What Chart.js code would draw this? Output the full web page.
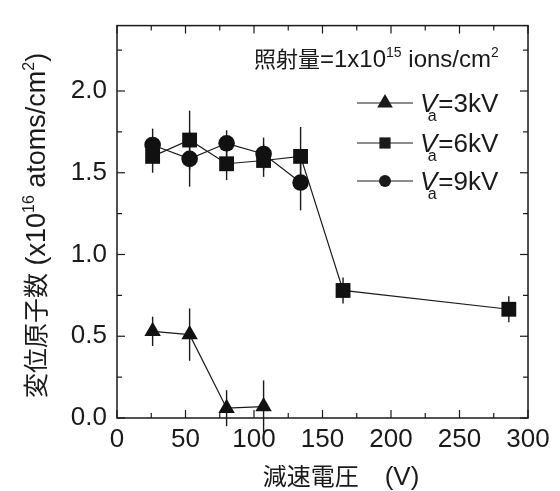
<!DOCTYPE html>
<html>
<head>
<meta charset="utf-8">
<script src="https://cdn.jsdelivr.net/npm/chart.js@4.4.1/dist/chart.umd.min.js"></script>
<style>
	body { margin: 0; background: #fff; }
	#wrap { width: 560px; height: 491px; }
</style>
</head>
<body>
<div id="wrap"><canvas id="canvas" width="560" height="491"></canvas></div>
<script>
	// axis ticks
	const xTicks = [0, 50, 100, 150, 200, 250, 300];
	const yTicks = [0.0, 0.5, 1.0, 1.5, 2.0];

	// Va = 3kV
	const x3kV = [26, 53, 80, 107];
	const y3kV = [0.53, 0.51, 0.06, 0.07];
	const err3kV = [0.09, 0.16, 0.11, 0.16];

	// Va = 6kV
	const x6kV = [26, 53, 80, 107, 134, 165, 286];
	const y6kV = [1.60, 1.70, 1.555, 1.575, 1.60, 0.78, 0.665];
	const err6kV = [0.10, 0.18, 0.10, 0.10, 0.18, 0.08, 0.08];

	// Va = 9kV
	const x9kV = [26, 53, 80, 107, 134];
	const y9kV = [1.67, 1.585, 1.68, 1.615, 1.44];
	const err9kV = [0.10, 0.17, 0.08, 0.10, 0.17];

	const legendLabels = ['=3kV', '=6kV', '=9kV'];

	const FONT = '"Liberation Sans", Arial, "Noto Sans CJK JP", sans-serif';
	const INK = '#1a1a1a';

	function toPoints(xs, ys) {
		return xs.map((x, i) => ({ x: x, y: ys[i] }));
	}

	function drawRuns(ctx, runs, x, y) {
		// runs: [text, size, dy]
		let cx = x;
		runs.forEach(r => {
			ctx.font = r[1] + 'px ' + FONT;
			ctx.fillText(r[0], cx, y + r[2]);
			cx += ctx.measureText(r[0]).width;
		});
		return cx - x;
	}
	function runsWidth(ctx, runs) {
		let w = 0;
		runs.forEach(r => {
			ctx.font = r[1] + 'px ' + FONT;
			w += ctx.measureText(r[0]).width;
		});
		return w;
	}

	function marker(ctx, style, x, y, r) {
		ctx.beginPath();
		if (style === 'triangle') {
			ctx.moveTo(x, y - r);
			ctx.lineTo(x + r * 0.866, y + r / 2);
			ctx.lineTo(x - r * 0.866, y + r / 2);
			ctx.closePath();
		} else if (style === 'rect') {
			ctx.rect(x - r, y - r, 2 * r, 2 * r);
		} else {
			ctx.arc(x, y, r, 0, Math.PI * 2);
		}
		ctx.fill();
	}

	const decorPlugin = {
		id: 'decor',
		beforeDatasetsDraw(chart) {
			const ctx = chart.ctx;
			const ys = chart.scales.y;
			ctx.save();
			ctx.strokeStyle = INK;
			ctx.lineWidth = 1.4;
			chart.data.datasets.forEach((ds, i) => {
				const meta = chart.getDatasetMeta(i);
				meta.data.forEach((pt, j) => {
					const v = ds.data[j].y, e = ds.errors[j];
					ctx.beginPath();
					ctx.moveTo(pt.x, ys.getPixelForValue(v + e));
					ctx.lineTo(pt.x, ys.getPixelForValue(v - e));
					ctx.stroke();
				});
			});
			ctx.restore();
		},
		afterDraw(chart) {
			const ctx = chart.ctx;
			const a = chart.chartArea;
			const xs = chart.scales.x, ys = chart.scales.y;
			ctx.save();
			ctx.strokeStyle = INK;
			ctx.fillStyle = INK;

			// frame
			ctx.lineWidth = 1.5;
			ctx.strokeRect(a.left, a.top, a.right - a.left, a.bottom - a.top);

			// inward ticks on all four sides
			ctx.lineWidth = 1.2;
			const tick = (x1, y1, x2, y2) => {
				ctx.beginPath(); ctx.moveTo(x1, y1); ctx.lineTo(x2, y2); ctx.stroke();
			};
			xTicks.forEach((t, i) => {
				const px = xs.getPixelForValue(t);
				tick(px, a.bottom, px, a.bottom - 8);
				tick(px, a.top, px, a.top + 8);
				if (i < xTicks.length - 1) {
					const m = xs.getPixelForValue((t + xTicks[i + 1]) / 2);
					tick(m, a.bottom, m, a.bottom - 5);
					tick(m, a.top, m, a.top + 5);
				}
			});
			yTicks.forEach((t, i) => {
				const py = ys.getPixelForValue(t);
				tick(a.left, py, a.left + 8, py);
				tick(a.right, py, a.right - 8, py);
				const next = i < yTicks.length - 1 ? yTicks[i + 1] : t + 0.5;
				const mv = (t + next) / 2;
				if (mv < ys.max) {
					const m = ys.getPixelForValue(mv);
					tick(a.left, m, a.left + 5, m);
					tick(a.right, m, a.right - 5, m);
				}
			});

			// x title
			ctx.textBaseline = 'alphabetic';
			ctx.textAlign = 'left';
			const xt = [['減速電圧', 24, 0], ['\u3000(V)', 26, 0]];
			const xw = runsWidth(ctx, xt);
			drawRuns(ctx, xt, 341 - xw / 2, 485);

			// y title (rotated, starts at the bottom)
			const yt = [['変位原子数', 25, 0], [' (x10', 27, 0], ['16', 16, -11], [' atoms/cm', 27, 0], ['2', 16, -11], [')', 27, 0]];
			ctx.save();
			ctx.translate(45, 398);
			ctx.rotate(-Math.PI / 2);
			drawRuns(ctx, yt, 0, 0);
			ctx.restore();

			// dose annotation
			const an = [['照射量', 22, 0], ['=1x10', 24, 0], ['15', 14, -10], [' ions/cm', 24, 0], ['2', 14, -10]];
			drawRuns(ctx, an, 254, 67);

			// legend
			const styles = ['triangle', 'rect', 'circle'];
			const sizes = [9, 5.6, 6];
			const rows = [103, 143, 181];
			legendLabels.forEach((lab, i) => {
				const y = rows[i];
				ctx.lineWidth = 1.2;
				tick(357, y, 413, y);
				marker(ctx, styles[i], 385, y, sizes[i]);
				ctx.font = 'italic 26px ' + FONT;
				ctx.fillText('V', 420, y + 9);
				const wv = ctx.measureText('V').width;
				ctx.font = '16px ' + FONT;
				ctx.fillText('a', 420 + wv * 0.45, y + 18);
				ctx.font = '26px ' + FONT;
				ctx.fillText(lab, 420 + wv + 1, y + 9);
			});
			ctx.restore();
		}
	};

	function series(label, xs, ys, errs, style, r) {
		return {
			label: label,
			data: toPoints(xs, ys),
			errors: errs,
			showLine: true,
			borderColor: INK,
			borderWidth: 1.2,
			pointStyle: style,
			pointRadius: r,
			pointHoverRadius: r,
			pointBackgroundColor: '#111',
			pointBorderColor: '#111',
			pointBorderWidth: 0,
			clip: false
		};
	}

	const ctx = document.getElementById('canvas').getContext('2d');
	new Chart(ctx, {
		type: 'scatter',
		data: {
			datasets: [
				series('Va=3kV', x3kV, y3kV, err3kV, 'triangle', 9.5),
				series('Va=6kV', x6kV, y6kV, err6kV, 'rect', 10.5),
				series('Va=9kV', x9kV, y9kV, err9kV, 'circle', 8.3)
			]
		},
		options: {
			responsive: false,
			animation: false,
			events: [],
			layout: { padding: { left: 0, top: 25, right: 32, bottom: 0 } },
			plugins: { legend: { display: false }, tooltip: { enabled: false } },
			scales: {
				x: {
					type: 'linear',
					min: 0, max: 300,
					afterFit: s => { s.height = 73; },
					afterBuildTicks: s => { s.ticks = xTicks.map(v => ({ value: v })); },
					grid: { display: false, drawTicks: false },
					border: { display: false },
					ticks: { padding: 6, color: INK, font: { family: FONT, size: 26 }, callback: v => String(v) }
				},
				y: {
					min: 0, max: 2.4,
					afterFit: s => { s.width = 117; },
					afterBuildTicks: s => { s.ticks = yTicks.map(v => ({ value: v })); },
					grid: { display: false, drawTicks: false },
					border: { display: false },
					ticks: { padding: 10, color: INK, font: { family: FONT, size: 26 }, callback: v => v.toFixed(1) }
				}
			}
		},
		plugins: [decorPlugin]
	});
</script>
</body>
</html>
